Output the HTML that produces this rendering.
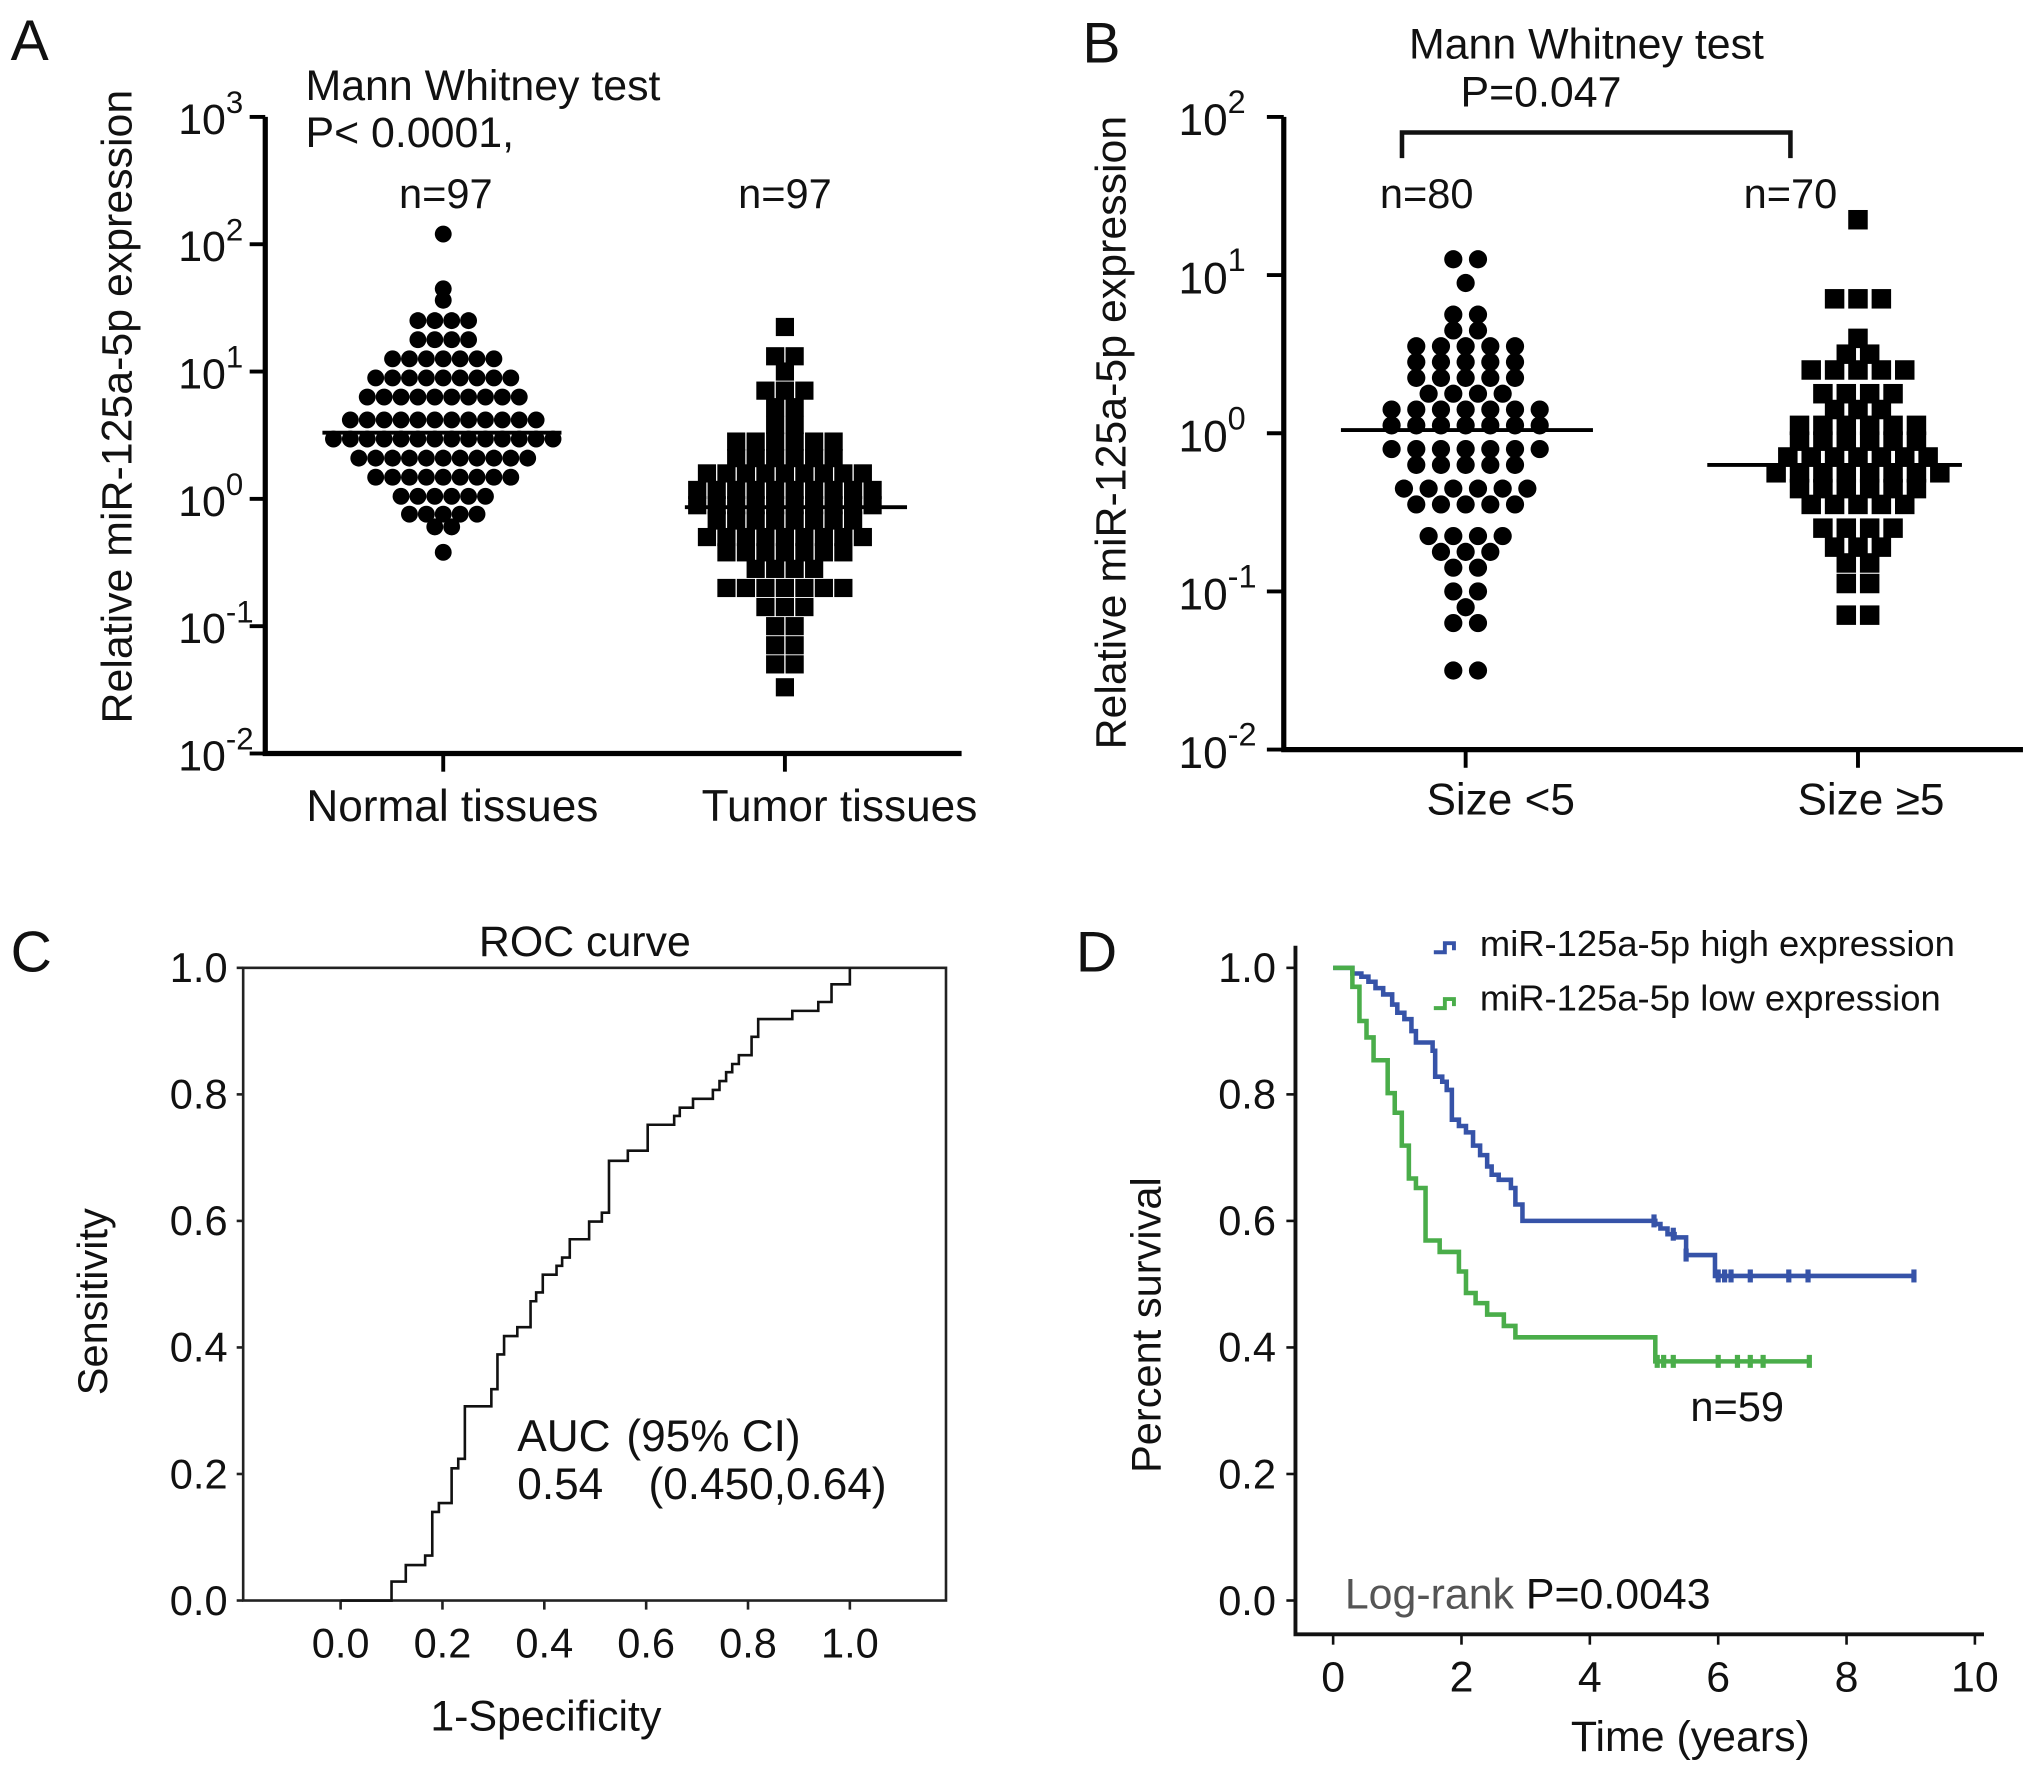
<!DOCTYPE html>
<html><head><meta charset="utf-8">
<style>
html,body{margin:0;padding:0;background:#fff;}
svg{display:block;}
text{font-family:"Liberation Sans",Arial,sans-serif;fill:#111;}
</style></head>
<body>
<svg id="fig" width="2031" height="1772" viewBox="0 0 1563 1364" xmlns="http://www.w3.org/2000/svg">
<g id="static" stroke-linecap="square">
  <text x="8" y="46" font-size="44">A</text>
  <text x="235" y="77" font-size="33">Mann Whitney test</text>
  <text x="235" y="113" font-size="33">P&lt; 0.0001,</text>
  <text x="343" y="160" font-size="32" text-anchor="middle">n=97</text>
  <text x="604" y="160" font-size="32" text-anchor="middle">n=97</text>
  <text transform="translate(101,313) rotate(-90)" font-size="33" text-anchor="middle">Relative miR-125a-5p expression</text>
  <text x="348" y="632" font-size="34" text-anchor="middle">Normal tissues</text>
  <text x="646" y="632" font-size="34" text-anchor="middle">Tumor tissues</text>
  <text x="833" y="48" font-size="44">B</text>
  <text x="1221" y="45" font-size="33" text-anchor="middle">Mann Whitney test</text>
  <text x="1186" y="82" font-size="33" text-anchor="middle">P=0.047</text>
  <path d="M1079,120 V102 H1378 V120" fill="none" stroke="#111" stroke-width="3.5"/>
  <text x="1098" y="160" font-size="32" text-anchor="middle">n=80</text>
  <text x="1378" y="160" font-size="32" text-anchor="middle">n=70</text>
  <text transform="translate(866,333) rotate(-90)" font-size="33" text-anchor="middle">Relative miR-125a-5p expression</text>
  <text x="1155" y="627" font-size="34" text-anchor="middle">Size &lt;5</text>
  <text x="1440" y="627" font-size="34" text-anchor="middle">Size ≥5</text>
  <text x="8" y="748" font-size="44">C</text>
  <text x="450" y="736" font-size="33" text-anchor="middle">ROC  curve</text>
  <text transform="translate(82,1002) rotate(-90)" font-size="32" text-anchor="middle" fill="#333">Sensitivity</text>
  <text x="420" y="1332" font-size="33" text-anchor="middle" fill="#333">1-Specificity</text>
  <g font-size="34">
    <text x="398" y="1117" fill="#444">AUC</text>
    <text x="482" y="1117" fill="#444">(95% CI)</text>
    <text x="398" y="1154" fill="#444">0.54</text>
    <text x="499" y="1154" fill="#444">(0.450,0.64)</text>
  </g>
  <text x="828" y="748" font-size="44">D</text>
  <text transform="translate(893,1020) rotate(-90)" font-size="32" text-anchor="middle" fill="#222">Percent survival</text>
  <text x="1301" y="1348" font-size="33" text-anchor="middle" fill="#222">Time (years)</text>
  <text x="1337" y="1094" font-size="32" text-anchor="middle" fill="#222">n=59</text>
  <text x="1035" y="1238" font-size="33"><tspan fill="#555">Log-rank</tspan> P=0.0043</text>
  <g>
    <path d="M1105,733 h7 v-7 h7 v4" fill="none" stroke="#3653a8" stroke-width="3"/>
    <text x="1139" y="736" font-size="28" fill="#222">miR-125a-5p high expression</text>
  </g>
  <g>
    <path d="M1105,776 h7 v-7 h7 v4" fill="none" stroke="#4aad4a" stroke-width="3"/>
    <text x="1139" y="778" font-size="28" fill="#222">miR-125a-5p low expression</text>
  </g>
</g>
<g id="dyn"></g>
</svg>
<script>
const aNormalRowValues = [2.08,1.65,1.56,1.40,1.25,1.10,0.95,0.80,0.62,0.47,0.32,0.17,0.02,-0.12,-0.22,-0.42];
const aNormalRowCounts = [1,1,1,4,4,7,9,10,12,14,11,9,6,5,2,1];
const aNormalMedianLog = 0.52;
const aTumorRowValues = [1.35,1.12,1.0,0.85,0.72,0.58,0.45,0.32,0.2,0.07,-0.05,-0.17,-0.3,-0.42,-0.55,-0.7,-0.85,-1.0,-1.15,-1.3,-1.48];
const aTumorRowCounts = [1,2,1,3,2,2,6,6,9,10,10,8,9,7,4,7,3,2,2,2,1];
const aTumorMedianLog = -0.065;
const aTickExps = [3,2,1,0,-1,-2];
const bSmallRowValues = [1.1,0.95,0.75,0.65,0.55,0.45,0.35,0.25,0.15,0.05,-0.1,-0.2,-0.35,-0.45,-0.65,-0.75,-0.85,-1.0,-1.1,-1.2,-1.5];
const bSmallRowCounts = [2,1,2,2,5,5,5,4,7,7,7,5,6,5,4,3,2,2,1,2,2];
const bSmallMedianLog = 0.02;
const bLargeRowValues = [1.35,0.85,0.6,0.5,0.4,0.25,0.15,0.05,-0.05,-0.15,-0.25,-0.35,-0.45,-0.6,-0.72,-0.82,-0.95,-1.15];
const bLargeRowCounts = [1,3,1,2,5,4,3,6,6,7,8,6,5,4,3,2,2,2];
const bLargeMedianLog = -0.2;
const bTickExps = [2,1,0,-1,-2];
const rocFpr = [0.100,0.128,0.166,0.180,0.193,0.218,0.231,0.244,0.296,0.308,0.321,0.347,0.373,0.384,0.397,0.424,0.435,0.450,0.488,0.513,0.527,0.564,0.603,0.655,0.666,0.692,0.731,0.744,0.757,0.769,0.782,0.807,0.820,0.887,0.938,0.964,1.0];
const rocTpr = [0.030,0.056,0.071,0.140,0.154,0.209,0.224,0.307,0.334,0.389,0.418,0.432,0.473,0.487,0.515,0.529,0.542,0.571,0.599,0.613,0.695,0.711,0.752,0.766,0.779,0.793,0.807,0.821,0.835,0.848,0.862,0.891,0.919,0.932,0.946,0.974,1.0];
const rocTicks = [0.0,0.2,0.4,0.6,0.8,1.0];
const highTimes = [0.30,0.44,0.55,0.66,0.78,0.92,1.00,1.11,1.22,1.29,1.55,1.59,1.70,1.77,1.85,1.96,2.07,2.18,2.29,2.40,2.47,2.58,2.77,2.84,2.95,5.02,5.10,5.21,5.32,5.50,5.95];
const highSurv = [0.991,0.986,0.978,0.968,0.958,0.942,0.929,0.919,0.900,0.882,0.869,0.828,0.820,0.807,0.760,0.750,0.740,0.719,0.704,0.686,0.673,0.665,0.652,0.626,0.600,0.595,0.588,0.579,0.574,0.546,0.513];
const highEnd = 9.05;
const highCensor = [5.0,5.3,5.5,6.0,6.1,6.2,6.5,7.1,7.4,9.05];
const lowTimes = [0.30,0.41,0.52,0.63,0.85,0.96,1.07,1.18,1.29,1.44,1.66,1.96,2.07,2.22,2.40,2.66,2.84,5.02];
const lowSurv = [0.970,0.916,0.890,0.854,0.802,0.771,0.719,0.667,0.652,0.569,0.551,0.520,0.486,0.470,0.452,0.434,0.416,0.378];
const lowEnd = 7.42;
const lowCensor = [5.05,5.15,5.3,6.0,6.3,6.5,6.7,7.42];
const kmYTicks = [0.0,0.2,0.4,0.6,0.8,1.0];
const kmXTicks = [0,2,4,6,8,10];

const NS = 'http://www.w3.org/2000/svg';
const dyn = document.getElementById('dyn');
function mk(tag, attrs, parent){
  const e = document.createElementNS(NS, tag);
  for (const k in attrs) e.setAttribute(k, attrs[k]);
  (parent||dyn).appendChild(e);
  return e;
}
const aY = v => 580 - (v + 2) * 98;
const bY = v => 577 - (v + 2) * 121.75;
const cX = v => 262 + v * 392;
const cY = v => 1232 - v * 487;
const dX = t => 1026 + t * 49.4;
const dY = s => 1232 - s * 487;

function swarm(rowVals, rowCounts, cx, yFn, size, gap, shape, name){
  const g = mk('g', {});
  
  
  rowVals.forEach((v, i) => {
    const n = rowCounts[i];
    const y = yFn(v);
    for (let j = 0; j < n; j++){
      const x = cx + (j - (n - 1) / 2) * gap;
      let el;
      if (shape === 'circle') el = mk('circle', {cx:x, cy:y, r:size/2, fill:'#000'}, g);
      else el = mk('rect', {x:x-size/2, y:y-size/2, width:size, height:size, fill:'#000'}, g);
      
      
    }
  });
}
function hline(x1,x2,y,w,name){
  const l = mk('line',{x1:x1,x2:x2,y1:y,y2:y,stroke:'#000','stroke-width':w});
  
  
}

swarm(aNormalRowValues, aNormalRowCounts, 341, aY, 13, 13, 'circle', 'normal-tissues-dots');
swarm(aTumorRowValues, aTumorRowCounts, 604, aY, 14, 15, 'square', 'tumor-tissues-squares');
hline(248, 432, aY(aNormalMedianLog), 3, 'normal-median-line');
hline(527, 698, aY(aTumorMedianLog), 3, 'tumor-median-line');
const aAx = mk('path',{d:'M204,90 V580 H740', fill:'none', stroke:'#000','stroke-width':4});


aTickExps.forEach(e => {
  const y = aY(e);
  const t = mk('line',{x1:192,x2:204,y1:y,y2:y,stroke:'#000','stroke-width':3});
  
  
  const tx = mk('text',{x:137,y:y+13,'font-size':33});
  
  
  tx.textContent = '10';
  const sp = mk('tspan',{dy:-16,'font-size':24}, tx);
  sp.textContent = String(e);
});
[341,604].forEach(x => {
  const t = mk('line',{x1:x,x2:x,y1:580,y2:594,stroke:'#000','stroke-width':3});
  
  
});

swarm(bSmallRowValues, bSmallRowCounts, 1128, bY, 14, 19, 'circle', 'size-small-dots');
swarm(bLargeRowValues, bLargeRowCounts, 1430, bY, 15, 18, 'square', 'size-large-squares');
hline(1032, 1226, bY(bSmallMedianLog), 3, 'size-small-median-line');
hline(1314, 1510, bY(bLargeMedianLog), 3, 'size-large-median-line');
const bAx = mk('path',{d:'M988,90 V577 H1557', fill:'none', stroke:'#000','stroke-width':4});


bTickExps.forEach(e => {
  const y = bY(e);
  const t = mk('line',{x1:975,x2:988,y1:y,y2:y,stroke:'#000','stroke-width':3});
  
  
  const tx = mk('text',{x:907,y:y+14,'font-size':34});
  
  
  tx.textContent = '10';
  const sp = mk('tspan',{dy:-17,'font-size':25}, tx);
  sp.textContent = String(e);
});
[1128,1430].forEach(x => {
  const t = mk('line',{x1:x,x2:x,y1:577,y2:591,stroke:'#000','stroke-width':3});
  
  
});

const box = mk('rect',{x:187,y:745,width:541,height:487,fill:'none',stroke:'#222','stroke-width':2});


rocTicks.forEach(v => {
  const ty = mk('line',{x1:182,x2:187,y1:cY(v),y2:cY(v),stroke:'#222','stroke-width':2});
  
  
  const ly = mk('text',{x:175,y:cY(v)+11,'font-size':32,'text-anchor':'end',fill:'#333'});
  
  
  ly.textContent = v.toFixed(1);
  const tx = mk('line',{x1:cX(v),x2:cX(v),y1:1232,y2:1239,stroke:'#222','stroke-width':2});
  
  
  const lx = mk('text',{x:cX(v),y:1276,'font-size':32,'text-anchor':'middle',fill:'#333'});
  
  
  lx.textContent = v.toFixed(1);
});
let rd = 'M' + cX(0) + ',' + cY(0) + ' H' + cX(rocFpr[0]);
rocFpr.forEach((f,i) => { rd += ' H' + cX(f) + ' V' + cY(rocTpr[i]); });
const roc = mk('path',{d:rd,fill:'none',stroke:'#111','stroke-width':2});



const dAx = mk('path',{d:'M997,728 V1258 H1527', fill:'none', stroke:'#111','stroke-width':3});


kmYTicks.forEach(v => {
  const t = mk('line',{x1:990,x2:997,y1:dY(v),y2:dY(v),stroke:'#111','stroke-width':2});
  
  
  const l = mk('text',{x:982,y:dY(v)+11,'font-size':32,'text-anchor':'end',fill:'#333'});
  
  
  l.textContent = v.toFixed(1);
});
kmXTicks.forEach(v => {
  const t = mk('line',{x1:dX(v),x2:dX(v),y1:1258,y2:1266,stroke:'#111','stroke-width':2});
  
  
  const l = mk('text',{x:dX(v),y:1302,'font-size':33,'text-anchor':'middle',fill:'#222'});
  
  
  l.textContent = String(v);
});
function km(times, surv, end, censor, color, name){
  let d = 'M' + dX(0) + ',' + dY(1);
  times.forEach((t,i) => { d += ' H' + dX(t) + ' V' + dY(surv[i]); });
  d += ' H' + dX(end);
  const p = mk('path',{d:d,fill:'none',stroke:color,'stroke-width':3.5});
  
  
  censor.forEach(c => {
    let s = 1;
    times.forEach((t,i) => { if (t <= c) s = surv[i]; });
    const m = mk('line',{x1:dX(c),x2:dX(c),y1:dY(s)-5,y2:dY(s)+5,stroke:color,'stroke-width':4});
    
    
  });
}
km(highTimes, highSurv, highEnd, highCensor, '#3653a8', 'high-expression');
km(lowTimes, lowSurv, lowEnd, lowCensor, '#4aad4a', 'low-expression');
</script>
</body></html>
